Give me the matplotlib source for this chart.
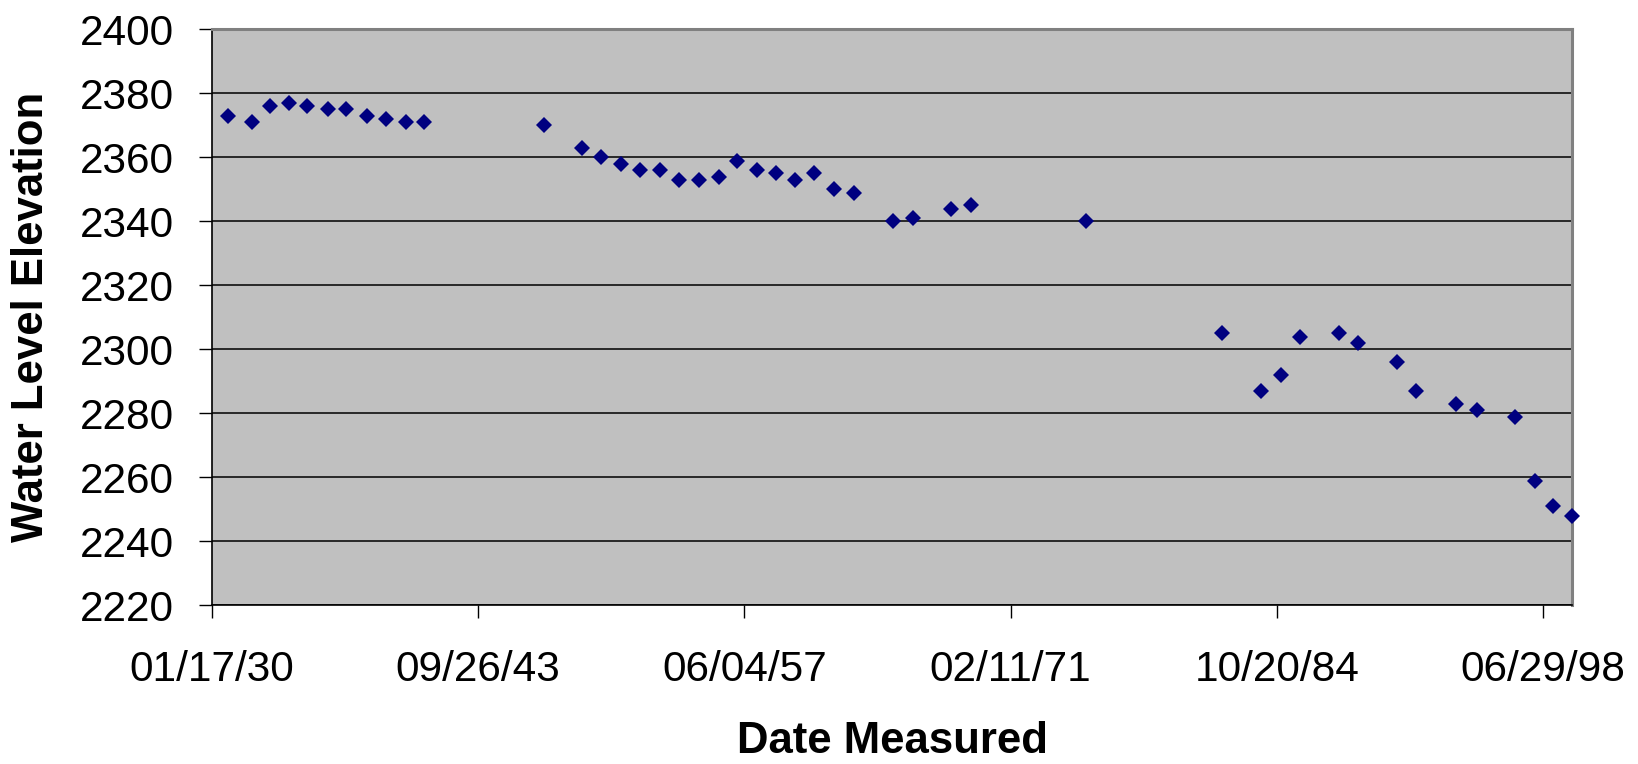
import numpy as np
import matplotlib
matplotlib.use('Agg')
import matplotlib.pyplot as plt
import matplotlib.dates as mdates
from datetime import datetime

dates = [
    '1930-11-20', '1932-02-01', '1933-01-15', '1933-12-25', '1934-12-15',
    '1936-01-05', '1936-12-15', '1938-01-05', '1938-12-20', '1940-01-15',
    '1940-12-15', '1947-02-15', '1949-01-20', '1950-01-25', '1951-02-01',
    '1952-01-25', '1953-01-30', '1954-01-30', '1955-01-30', '1956-02-10',
    '1957-01-25', '1958-01-20', '1959-01-20', '1960-01-15', '1961-01-10',
    '1962-01-10', '1963-01-20', '1965-01-30', '1966-02-05', '1968-01-25',
    '1969-02-05', '1974-12-28', '1981-12-28', '1983-12-25', '1985-01-01',
    '1985-12-25', '1987-12-25', '1989-01-01', '1990-12-20', '1991-12-10',
    '1994-01-15', '1995-01-30', '1997-01-10', '1998-02-05', '1998-12-28',
    '1999-12-17',
]
elevation = [
    2373, 2371, 2376, 2377, 2376, 2375, 2375, 2373, 2372, 2371,
    2371, 2370, 2363, 2360, 2358, 2356, 2356, 2353, 2353, 2354,
    2359, 2356, 2355, 2353, 2355, 2350, 2349, 2340, 2341, 2344,
    2345, 2340, 2305, 2287, 2292, 2304, 2305, 2302, 2296, 2287,
    2283, 2281, 2279, 2259, 2251, 2248,
]
y_ticks = [2220, 2240, 2260, 2280, 2300, 2320, 2340, 2360, 2380, 2400]

x = [datetime.strptime(d, '%Y-%m-%d') for d in dates]
# Excel style major unit of 5000 days starting at the axis minimum
x_ticks = (np.datetime64('1930-01-17') + np.arange(6) * 5000).astype(datetime)

plt.rcParams['font.family'] = ['Liberation Sans', 'DejaVu Sans']

fig = plt.figure(figsize=(16.38, 7.64), dpi=100)
ax = fig.add_axes([212 / 1638, 1 - 605.3 / 764, 1360.4 / 1638, 576 / 764])
ax.set_facecolor('#c0c0c0')

ax.plot(x, elevation, linestyle='none', marker='D', markersize=8.3,
        color='#000080', markeredgewidth=0, clip_on=False, zorder=3)

ax.set_ylim(2220, 2400)
ax.set_yticks(y_ticks)
ax.set_xlim(datetime(1930, 1, 17), datetime(2000, 1, 2))
ax.set_xticks(x_ticks)
ax.xaxis.set_major_formatter(mdates.DateFormatter('%m/%d/%y'))

ax.yaxis.grid(True, color='black', linewidth=1.1)
ax.set_axisbelow(True)

ax.tick_params(axis='both', direction='out', length=9.5, width=1.0,
               labelsize=30.5, color='black')
ax.tick_params(axis='y', pad=18)
ax.tick_params(axis='x', pad=23)

for side in ['left', 'bottom']:
    ax.spines[side].set_color('black')
    ax.spines[side].set_linewidth(1.2)
for side in ['top', 'right']:
    ax.spines[side].set_color('#808080')
    ax.spines[side].set_linewidth(2.2)

ax.set_ylabel('Water Level Elevation', fontsize=31.5, fontweight='bold', va='center')
ax.yaxis.set_label_coords(-0.133, 0.5)
ax.set_xlabel('Date Measured', fontsize=31.5, fontweight='bold', va='center')
ax.xaxis.set_label_coords(0.5, -0.237)

fig.savefig('out.png', dpi=100)
